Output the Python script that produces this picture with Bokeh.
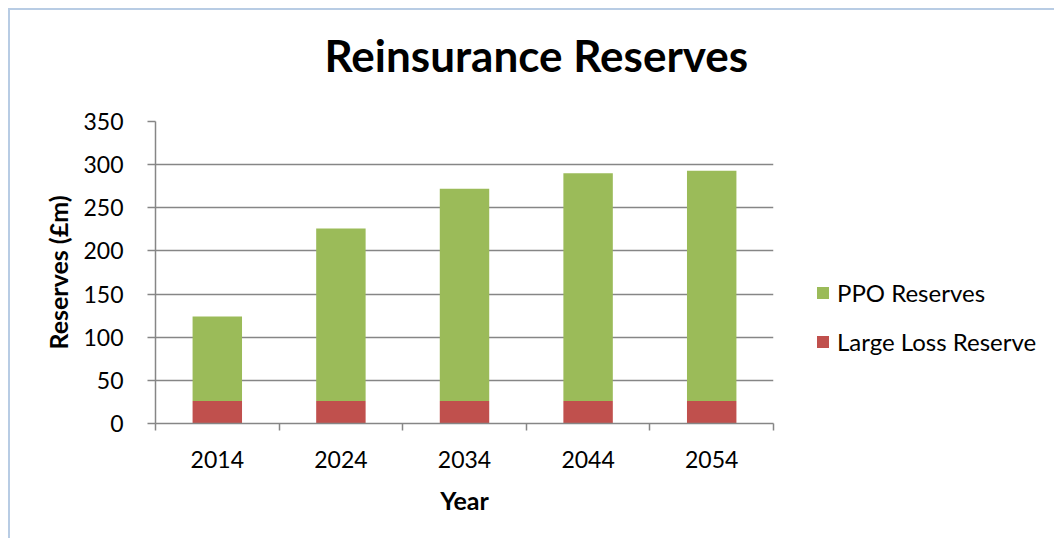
from bokeh.plotting import figure
from bokeh.models import FixedTicker, Legend, LegendItem, ColumnDataSource, Range1d, Title
from bokeh.embed import file_html
from bokeh.resources import INLINE

# ---- data ----
years = [2014, 2024, 2034, 2044, 2054]
large_loss = [26, 26, 26, 26, 26]
ppo = [98, 200, 246, 264, 267]
y_ticks = [0, 50, 100, 150, 200, 250, 300, 350]
series_names = ["Large Loss Reserve", "PPO Reserves"]
colors = ["#c0504d", "#9bbb59"]

FONT = "Lato"
GRAY = "#868686"

src = ColumnDataSource(dict(year=years, large=large_loss, ppo=ppo))

step = years[1] - years[0]
p = figure(
    width=1040, height=528,
    frame_width=618, frame_height=302,
    x_range=Range1d(years[0] - step / 2, years[-1] + step / 2),
    y_range=Range1d(y_ticks[0], y_ticks[-1]),
    output_backend="svg", toolbar_location=None,
    min_border_left=145, min_border_right=277,
    min_border_top=111, min_border_bottom=115,
)
p.styles = {"border-left": "2px solid #b8cce4", "border-top": "2px solid #b8cce4",
            "margin-left": "8px", "margin-top": "8px"}
p.outline_line_color = None

r = p.vbar_stack(["large", "ppo"], x="year", width=step * 0.4, color=colors,
                 line_color=None, source=src)

# spacer panel between the frame and the title (first added = closest to frame)
spacer = Title(text=" ", text_font_size="1px", standoff=38)
p.add_layout(spacer, "above")
title = Title(text="Reinsurance Reserves", align="left", offset=169,
              text_font=FONT, text_font_size="44px", text_font_style="bold",
              text_color="black", standoff=0)
p.add_layout(title, "above")

# axes
p.xaxis.ticker = FixedTicker(ticks=years,
                             minor_ticks=[y - step / 2 for y in years] + [years[-1] + step / 2])
p.xaxis.major_tick_line_color = None
p.xaxis.minor_tick_line_color = GRAY
p.xaxis.minor_tick_out = 7
p.xaxis.minor_tick_in = 0
p.xaxis.minor_tick_line_width = 1.5
p.xaxis.axis_line_color = GRAY
p.xaxis.axis_line_width = 1.5
p.xaxis.major_label_standoff = 20
p.xaxis.axis_label = "Year"
p.xaxis.axis_label_standoff = 14

p.yaxis.ticker = FixedTicker(ticks=y_ticks)
p.yaxis.major_tick_out = 8
p.yaxis.major_tick_in = 0
p.yaxis.major_tick_line_color = GRAY
p.yaxis.major_tick_line_width = 1.5
p.yaxis.minor_tick_line_color = None
p.yaxis.axis_line_color = GRAY
p.yaxis.axis_line_width = 1.5
p.yaxis.major_label_standoff = 24
p.yaxis.axis_label = "Reserves (£m)"
p.yaxis.axis_label_standoff = 7

for ax in (p.xaxis[0], p.yaxis[0]):
    ax.major_label_text_font = FONT
    ax.major_label_text_font_size = "23px"
    ax.major_label_text_color = "black"
    ax.axis_label_text_font = FONT
    ax.axis_label_text_font_size = "25px"
    ax.axis_label_text_font_style = "bold"
    ax.axis_label_text_color = "black"

p.xgrid.grid_line_color = None
p.ygrid.grid_line_color = GRAY
p.ygrid.grid_line_width = 1.5

legend = Legend(items=[LegendItem(label=series_names[1], renderers=[r[1]]),
                       LegendItem(label=series_names[0], renderers=[r[0]])],
                location=(42, 67), orientation="vertical",
                glyph_width=15, glyph_height=15, label_standoff=7,
                label_height=27, spacing=20, padding=0, margin=0,
                label_text_font=FONT, label_text_font_size="24px",
                label_text_color="black",
                border_line_color=None, background_fill_alpha=0)
p.add_layout(legend, "right")

open("out.html", "w").write(file_html(p, INLINE))
